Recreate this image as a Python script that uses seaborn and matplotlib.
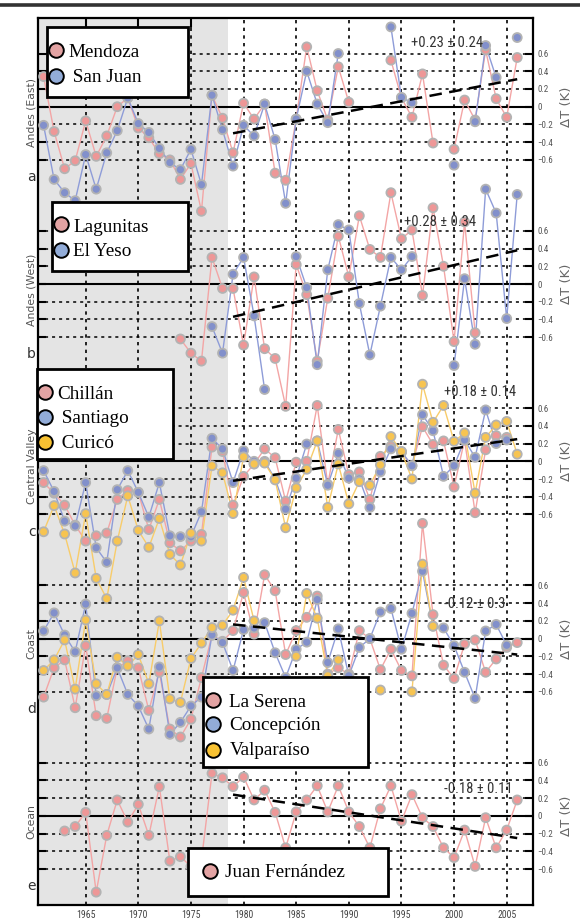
import numpy as np
import pandas as pd
import matplotlib
matplotlib.use("Agg")
import matplotlib.pyplot as plt
import matplotlib.font_manager as fm
import seaborn as sns
from matplotlib.lines import Line2D
from matplotlib.patches import Rectangle

sns.set_theme(style="white")
plt.rcParams["font.family"] = ["DejaVu Sans"]

nan = np.nan
years = list(range(1961, 2007))

# ---------------- data (temperature anomalies, K) ----------------
mendoza = [0.34, -0.28, -0.70, -0.61, -0.16, -0.56, -0.33, 0.00, 0.10, -0.24,
           -0.35, -0.53, -0.60, -0.82, -0.64, -1.18, 0.13, -0.13, -0.52, 0.04,
           -0.14, 0.03, -0.75, -0.83, -0.14, 0.675, 0.18, -0.15, 0.45, 0.05,
           nan, nan, nan, 0.525, 0.10, -0.12, 0.37, -0.41, nan, -0.48,
           0.075, -0.15, 0.64, 0.09, -0.12, 0.555]
san_juan = [-0.21, -0.82, -0.97, -1.06, -0.54, -0.93, -0.52, -0.27, 0.10, -0.19,
            -0.29, -0.47, -0.63, -0.71, -0.48, -0.88, 0.13, -0.26, -0.67, -0.21,
            -0.33, 0.03, -0.37, -1.09, -0.14, 0.40, 0.03, -0.18, 0.60, nan,
            nan, nan, nan, 0.90, 0.105, 0.045, nan, nan, nan, -0.66,
            nan, -0.17, 0.69, 0.33, nan, 0.78]
lagunitas = [nan] * 13 + [-0.62, -0.78, -0.87, 0.30, -0.05, -0.05, -0.69,
             0.08, -0.73, -0.84, -1.38, 0.22, -0.12, -0.87, -0.16, 0.54, 0.08,
             0.77, 0.39, 0.30, 1.03, 0.51, 0.61, -0.13, 0.86, 0.20, -0.65,
             0.70, -0.55, nan, nan, nan, nan]
el_yeso = [nan] * 16 + [-0.48, -0.78, 0.11, 0.30,
           -0.36, -1.19, nan, nan, 0.31, -0.04, -0.91, 0.16, 0.67, 0.61,
           -0.22, -0.80, -0.25, 0.30, 0.16, 0.31, nan, nan, nan, -0.92,
           0.06, -0.68, 1.07, 0.80, -0.39, 1.01]
chillan = [-0.24, -0.36, -0.495, -0.72, -0.90, -0.84, -0.81, -0.43, -0.33, -0.35,
           -0.77, -0.43, -0.92, -1.01, -0.90, -0.825, 0.16, 0.11, -0.495, -0.17,
           -0.03, 0.14, 0.04, -0.45, -0.01, 0.00, 0.63, -0.26, 0.36, -0.15,
           -0.12, -0.43, 0.056, 0.17, 0.10, -0.05, 0.39, 0.19, 0.23, -0.29,
           0.24, -0.58, 0.13, 0.29, 0.27, nan]
santiago = [-0.105, -0.34, -0.675, -0.73, -0.24, -0.975, -1.14, -0.32, -0.105, -0.35,
            -0.63, -0.24, -0.84, -0.85, -0.85, -0.57, 0.26, 0.14, -0.24, 0.12,
            0.00, 0.00, -0.20, -0.54, -0.19, 0.195, 0.23, -0.27, 0.09, -0.19,
            -0.20, -0.52, -0.12, 0.14, 0.11, -0.05, 0.525, 0.345, -0.17, -0.05,
            0.24, 0.045, 0.58, 0.20, 0.24, nan]
curico = [-0.795, -0.50, -0.82, -1.26, -0.59, -1.32, -1.55, -0.90, -0.39, -0.78,
          -0.97, -0.645, -1.05, -1.17, -0.81, -0.90, -0.05, -0.13, -0.59, 0.05,
          -0.03, -0.02, -0.21, -0.75, -0.30, -0.09, 0.23, -0.52, -0.03, -0.48,
          -0.23, -0.27, -0.04, 0.28, 0.11, -0.20, 0.87, 0.44, 0.63, 0.225,
          0.32, -0.36, 0.27, 0.41, 0.45, 0.08]
la_serena = [-0.66, -0.33, -0.24, -0.78, -0.08, -0.87, -0.90, -0.33, -0.25, -0.33,
             -0.81, -0.38, -1.02, -1.11, -0.91, -0.44, 0.04, -0.03, 0.09, 0.52,
             0.05, 0.72, 0.54, -0.18, 0.09, 0.24, 0.48, -0.40, -0.33, -0.40,
             0.09, 0.00, -0.35, -0.12, -0.36, -0.42, 1.30, 0.27, -0.30, -0.45,
             -0.06, -0.015, -0.38, -0.23, -0.10, -0.045]
concepcion = [0.086, 0.29, 0.04, -0.15, 0.39, -0.645, -0.63, -0.33, -0.63, -0.76,
              -1.02, -0.32, -1.08, -0.945, -0.76, -0.66, 0.04, -0.045, -0.36, 0.10,
              0.12, 0.18, -0.16, -0.44, -0.12, -0.04, 0.44, -0.27, 0.11, -0.42,
              -0.10, 0.00, 0.30, 0.34, -0.12, 0.285, 0.76, 0.14, 0.12, -0.08,
              -0.38, -0.675, 0.086, 0.16, -0.075, nan]
valparaiso = [-0.36, -0.24, -0.015, -0.57, 0.21, -0.51, -0.63, -0.21, -0.31, -0.18,
              -0.51, 0.20, -0.68, -0.72, -0.225, -0.05, 0.124, 0.15, 0.32, 0.69,
              0.20, nan, nan, nan, -0.20, 0.51, 0.23, -0.42, -0.24, nan,
              nan, nan, -0.58, nan, nan, -0.60, 0.84, 0.14, nan, nan,
              nan, nan, nan, nan, nan, nan]
juan_fernandez = [nan, nan, -0.17, -0.12, 0.04, -0.86, -0.22, 0.18, -0.07, 0.13,
                  -0.22, 0.33, -0.51, -0.46, -0.57, -0.50, 0.48, 0.43, 0.33, 0.44,
                  0.18, 0.29, 0.04, -0.36, 0.045, 0.18, 0.34, 0.045, 0.34, 0.045,
                  -0.12, -0.36, 0.08, 0.34, -0.06, 0.24, -0.02, -0.12, -0.36, -0.47,
                  -0.16, -0.57, -0.02, -0.36, -0.16, 0.18]

trend_years = [1979, 2006]
trend_a = [-0.30, 0.31]
trend_b = [-0.37, 0.38]
trend_c = [-0.22, 0.25]
trend_d = [0.16, -0.18]
trend_e = [0.24, -0.25]
trend_labels = ["+0.23 \u00b1 0.24", "+0.28 \u00b1 0.34", "+0.18 \u00b1 0.14",
                "-0.12 \u00b1 0.3", "-0.18 \u00b1 0.11"]
region_labels = ["Andes (East)", "Andes (West)", "Central Valley", "Coast", "Ocean"]
panel_letters = ["a", "b", "c", "d", "e"]
xtick_years = [1965, 1970, 1975, 1980, 1985, 1990, 1995, 2000, 2005]
ytick_vals = [-0.6, -0.4, -0.2, 0, 0.2, 0.4, 0.6]
ytick_labels = ["\u22120.6", "\u22120.4", "\u22120.2", "0", "0.2", "0.4", "0.6"]

# ---------------- styling ----------------
LINE = {"pink": "#F3A5A5", "blue": "#8E9CD8", "yellow": "#F8CC6A"}
MARK = {"pink": "#EE9797", "blue": "#8290CB", "yellow": "#F7C451"}
LEG = {"pink": "#E3A3A3", "blue": "#92ACD8", "yellow": "#F8C232"}

installed = {f.name for f in fm.fontManager.ttflist}
narrow_pick = None
for cand in ["Liberation Sans Narrow", "DejaVu Sans Condensed", "Roboto Condensed",
             "Open Sans Condensed", "Liberation Sans"]:
    if cand in installed:
        narrow_pick = cand
        break
NARROW = [narrow_pick, "DejaVu Sans"] if narrow_pick else ["DejaVu Sans"]
is_condensed = narrow_pick not in (None, "Liberation Sans")

panels = [
    dict(names=["Mendoza", "San Juan"], data=[mendoza, san_juan], cols=["pink", "blue"],
         trend=trend_a, tpos=(1999.3, 0.72)),
    dict(names=["Lagunitas", "El Yeso"], data=[lagunitas, el_yeso], cols=["pink", "blue"],
         trend=trend_b, tpos=(1998.7, 0.70)),
    dict(names=["Chill\u00e1n", "Santiago", "Curic\u00f3"], data=[chillan, santiago, curico],
         cols=["pink", "blue", "yellow"], trend=trend_c, tpos=(2002.5, 0.78)),
    dict(names=["La Serena", "Concepci\u00f3n", "Valpara\u00edso"],
         data=[la_serena, concepcion, valparaiso], cols=["pink", "blue", "yellow"],
         trend=trend_d, tpos=(2002.0, 0.39)),
    dict(names=["Juan Fern\u00e1ndez"], data=[juan_fernandez], cols=["pink"],
         trend=trend_e, tpos=(2002.3, 0.30)),
]

W, H = 580.0, 921.0
def fx(x):
    return x / W
def fy(y):
    return 1 - y / H

L, R, T = 38.0, 533.0, 18.05
PH = 177.3
XMIN, XMAX = 1960.47, 2007.5

fig = plt.figure(figsize=(5.8, 9.21), dpi=100)
fig.patch.set_facecolor("white")

# background axes: shading, vertical grid, frame, year labels
bg = fig.add_axes([fx(L), fy(T + 5 * PH), fx(R) - fx(L), 5 * PH / H])
bg.set_xlim(XMIN, XMAX)
bg.set_ylim(0, 1)
bg.set_facecolor("white")
bg.axvspan(XMIN, 1978.5, color="#e4e4e4", lw=0, zorder=0)
for yr in xtick_years:
    bg.axvline(yr, color="black", lw=1.2, ls=(0, (2, 2.6)), zorder=1)
for yr in [1965, 1970, 1975]:
    bg.plot([yr, yr], [1, 1 - 9 / (5 * PH)], color="black", lw=1.5, zorder=2)
bg.set_yticks([])
bg.set_xticks(xtick_years)
bg.set_xticklabels([str(y) for y in xtick_years], fontsize=7, color="#444",
                   family=NARROW)
bg.tick_params(axis="x", length=0, pad=4)
bg.grid(False)
for s in bg.spines.values():
    s.set_visible(True)
    s.set_color("black")
    s.set_linewidth(1.6)

for i, p in enumerate(panels):
    top = T + i * PH
    ax = fig.add_axes([fx(L), fy(top + PH), fx(R) - fx(L), PH / H])
    ax.set_xlim(XMIN, XMAX)
    ax.set_ylim(-1, 1)
    ax.patch.set_alpha(0)
    ax.grid(False)
    for s in ax.spines.values():
        s.set_visible(False)

    for v in [-0.6, -0.4, -0.2, 0.2, 0.4, 0.6]:
        ax.axhline(v, color="black", lw=1.1, ls=(0, (2, 2.6)), zorder=1)
    ax.axhline(0, color="black", lw=1.5, zorder=1)
    n_grid = len(ax.lines)

    frames = []
    for name, vals in zip(p["names"], p["data"]):
        v = np.array(vals, dtype=float)
        seg = np.cumsum(np.isnan(v))
        frames.append(pd.DataFrame({"year": years, "dT": v, "station": name,
                                    "seg": [f"{name}-{k}" for k in seg]}))
    df = pd.concat(frames, ignore_index=True).dropna()
    lpal = {n: LINE[c] for n, c in zip(p["names"], p["cols"])}
    mpal = {n: MARK[c] for n, c in zip(p["names"], p["cols"])}
    sns.lineplot(data=df, x="year", y="dT", hue="station", units="seg",
                 estimator=None, palette=lpal, hue_order=p["names"], lw=1.0,
                 legend=False, ax=ax, zorder=2)
    sns.scatterplot(data=df, x="year", y="dT", hue="station", palette=mpal,
                    hue_order=p["names"], s=42, edgecolor="#b3b3b3", linewidth=1.3,
                    legend=False, ax=ax, zorder=3)
    sns.lineplot(x=trend_years, y=p["trend"], color="black", lw=1.8, ax=ax, zorder=4)
    ax.lines[-1].set_dashes([5, 3])
    for art in ax.lines[n_grid:] + ax.collections:
        art.set_clip_on(False)

    ax.text(p["tpos"][0], p["tpos"][1], trend_labels[i], ha="center", va="center",
            fontsize=(10.5 if is_condensed else 9), color="#333", family=NARROW, zorder=5)

    ax.set_xticks([])
    ax.set_xlabel("")
    ax.set_ylabel("")
    ax.set_yticks(ytick_vals)
    ax.set_yticklabels(ytick_labels, family=NARROW)
    ax.yaxis.set_ticks_position("both")
    ax.tick_params(axis="y", direction="in", length=6, width=1.5, color="black",
                   left=True, right=True, labelleft=False, labelright=True,
                   pad=3, labelsize=6.5, labelcolor="#555")
    ax.text(1.0667, 0.5, "\u0394T (K)", transform=ax.transAxes, rotation=90,
            ha="center", va="center", fontsize=9.5, color="#666")

    ax.text(-0.013, 0.47, region_labels[i], transform=ax.transAxes, rotation=90,
            ha="center", va="center", fontsize=7.8, color="#555")
    ax.text(-0.013, 0.103, panel_letters[i], transform=ax.transAxes,
            ha="center", va="center", fontsize=10, color="#333")

# ---------------- legends (boxes drawn in figure pixels) ----------------
legend_specs = [
    dict(box=(47, 27, 188, 97), rows=[(55.5, 50, 68, 56.7, "Mendoza", "pink"),
                                      (55.5, 76, 68, 81.7, " San Juan", "blue")]),
    dict(box=(52, 202, 188, 271), rows=[(60.7, 224.3, 73.3, 231.7, "Lagunitas", "pink"),
                                        (60.7, 250, 73.3, 255.7, "El Yeso", "blue")]),
    dict(box=(37, 369, 173, 459), rows=[(45, 392.3, 57.3, 399, "Chill\u00e1n", "pink"),
                                        (45, 417.3, 57.3, 423.3, " Santiago", "blue"),
                                        (45, 441.7, 57.3, 447.7, " Curic\u00f3", "yellow")]),
    dict(box=(203, 677, 368, 767), rows=[(213.3, 700, 229.3, 706.7, "La Serena", "pink"),
                                         (213.3, 724, 229.3, 730, "Concepci\u00f3n", "blue"),
                                         (213.3, 750, 229.3, 755, "Valpara\u00edso", "yellow")]),
    dict(box=(188, 848, 388, 896), rows=[(210, 871, 225, 877.3, "Juan Fern\u00e1ndez", "pink")]),
]
for spec in legend_specs:
    x0, y0, x1, y1 = spec["box"]
    fig.add_artist(Rectangle((fx(x0), fy(y1)), fx(x1) - fx(x0), (y1 - y0) / H,
                             transform=fig.transFigure, facecolor="white",
                             edgecolor="black", lw=2.0, zorder=10))
    for mx, my, tx, ty, label, col in spec["rows"]:
        fig.add_artist(Line2D([fx(mx)], [fy(my)], marker="o", ms=10.5, ls="none",
                              mfc=LEG[col], mec="black", mew=1.4,
                              transform=fig.transFigure, zorder=11))
        fig.text(fx(tx), fy(ty), label, fontsize=13.8,
                 family=["Liberation Serif", "DejaVu Serif"],
                 ha="left", va="baseline", color="black", zorder=11)

# scan border at top
fig.add_artist(Line2D([0, 1], [fy(5), fy(5)], color="#333", lw=2.6,
                      transform=fig.transFigure, zorder=12))

fig.savefig("out.png", dpi=100)
